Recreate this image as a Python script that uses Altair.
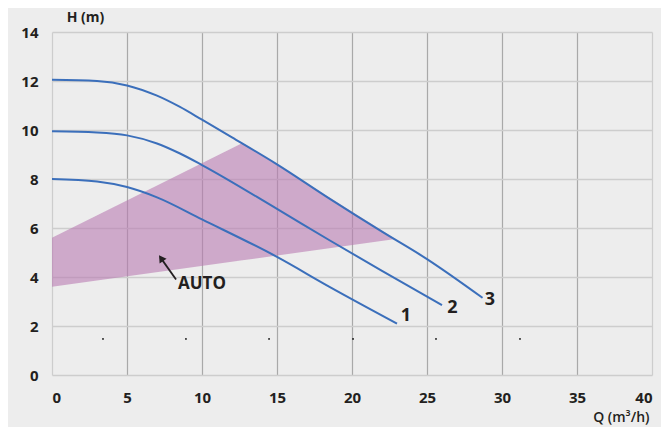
import altair as alt
import pandas as pd

# ---- data ----
q1 = [0, 3, 5, 7, 10, 15, 18.5, 23]
h1 = [8.0, 7.9, 7.67, 7.25, 6.35, 4.82, 3.6, 2.1]
q2 = [0, 3, 5, 7, 8.5, 10, 15, 18.5, 22, 26]
h2 = [9.95, 9.9, 9.78, 9.45, 9.05, 8.57, 6.78, 5.5, 4.25, 2.85]
q3 = [0, 3, 5, 7, 8.5, 10, 12, 15, 18.5, 22, 25, 28.7]
h3 = [12.05, 12.0, 11.82, 11.4, 10.95, 10.42, 9.7, 8.6, 7.2, 5.85, 4.73, 3.15]

auto_q = [0, 12.7, 22.9]
auto_lo = [3.6, 4.68, 5.55]
auto_hi = [5.6, 9.47, 5.55]

lab_q = [23.6, 26.7, 29.2]
lab_h = [2.42, 2.73, 3.08]
lab_t = ["1", "2", "3"]

dot_q = [3.4, 8.93, 14.47, 20.07, 25.6, 31.2]
dot_h = [1.47] * 6

arrow_q = [8.27, 7.32]
arrow_h = [3.9, 4.72]
head_q = [7.27]
head_h = [4.77]
auto_text_q = [8.4]
auto_text_h = [3.72]

x_ticks = [0, 5, 10, 15, 20, 25, 30, 35, 40]
y_ticks = [0, 2, 4, 6, 8, 10, 12, 14]

FONT = "Open Sans"
TXT = "#231f20"
BLUE = "#3b6fbb"

curves = pd.concat([
    pd.DataFrame({"q": q1, "h": h1, "c": "1"}),
    pd.DataFrame({"q": q2, "h": h2, "c": "2"}),
    pd.DataFrame({"q": q3, "h": h3, "c": "3"}),
])
auto_df = pd.DataFrame({"q": auto_q, "lo": auto_lo, "hi": auto_hi})
lab_df = pd.DataFrame({"q": lab_q, "h": lab_h, "t": lab_t})
dot_df = pd.DataFrame({"q": dot_q, "h": dot_h})
arrow_df = pd.DataFrame({"q": arrow_q, "h": arrow_h})
head_df = pd.DataFrame({"q": head_q, "h": head_h})
autot_df = pd.DataFrame({"q": auto_text_q, "h": auto_text_h, "t": ["AUTO"]})

xs = alt.Scale(domain=[0, 40], nice=False, zero=False)
ys = alt.Scale(domain=[0, 14], nice=False, zero=False)

x_axis = alt.Axis(
    values=x_ticks, title="Q (m³/h)", grid=True,
    gridColor=alt.condition("datum.value == 0 || datum.value == 40",
                            alt.value("#cdcdcd"), alt.value("#a9a9a9")),
    gridWidth=1.2, domain=False, ticks=False, labelPadding=15,
    labelFont=FONT, labelFontSize=15, labelFontWeight=700, labelColor=TXT,
    titleFont=FONT, titleFontSize=14, titleFontWeight=600, titleColor=TXT,
    titleAnchor="end", titleAlign="right", titleBaseline="middle",
    titleX=597, titleY=42,
)
y_axis = alt.Axis(
    values=y_ticks, title="H (m)", grid=True, gridColor="#cdcdcd",
    gridWidth=1.6, domain=False, ticks=False, labelPadding=14,
    labelFont=FONT, labelFontSize=15, labelFontWeight=700, labelColor=TXT,
    titleFont=FONT, titleFontSize=14, titleFontWeight=700, titleColor=TXT,
    titleAngle=0, titleAlign="center", titleBaseline="middle",
    titleX=33, titleY=-15,
)

area = alt.Chart(auto_df).mark_area(color="#b97bb2", opacity=0.6).encode(
    x=alt.X("q:Q", scale=xs, axis=x_axis),
    y=alt.Y("lo:Q", scale=ys, axis=y_axis),
    y2="hi:Q",
)

lines = alt.Chart(curves).mark_line(color=BLUE, strokeWidth=2, interpolate="monotone").encode(
    x=alt.X("q:Q", scale=xs),
    y=alt.Y("h:Q", scale=ys),
    detail="c:N",
)

labels = alt.Chart(lab_df).mark_text(
    font=FONT, fontSize=18, fontWeight=700, color=TXT, align="center", baseline="middle"
).encode(x=alt.X("q:Q", scale=xs), y=alt.Y("h:Q", scale=ys), text="t:N")

dots = alt.Chart(dot_df).mark_point(filled=True, color="#000000", size=3, opacity=1).encode(
    x=alt.X("q:Q", scale=xs), y=alt.Y("h:Q", scale=ys)
)

arrow = alt.Chart(arrow_df).mark_line(color=TXT, strokeWidth=1.8).encode(
    x=alt.X("q:Q", scale=xs), y=alt.Y("h:Q", scale=ys)
)
head = alt.Chart(head_df).mark_point(
    shape="triangle-up", filled=True, color=TXT, size=70, angle=326, opacity=1
).encode(x=alt.X("q:Q", scale=xs), y=alt.Y("h:Q", scale=ys))

autot = alt.Chart(autot_df).mark_text(
    font=FONT, fontSize=17, fontWeight=700, color=TXT, align="left", baseline="middle"
).encode(x=alt.X("q:Q", scale=xs), y=alt.Y("h:Q", scale=ys), text="t:N")

chart = alt.layer(area, lines, labels, dots, arrow, head, autot).properties(
    width=600, height=343,
    background="#ededed",
    padding={"left": 44, "top": 24, "right": 9, "bottom": 52},
    autosize=alt.AutoSizeParams(type="none"),
).configure_view(stroke=None, fill="#ededed")

chart.save("out.html", embed_options={"renderer": "svg", "actions": False})
